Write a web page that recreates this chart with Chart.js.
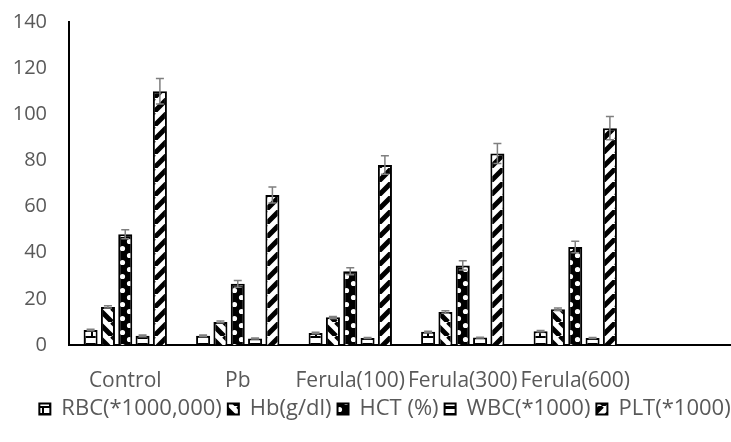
<!DOCTYPE html>
<html lang="en">

<head>
    <meta charset="UTF-8">
    <title>Blood parameters</title>
    <script src="https://cdn.jsdelivr.net/npm/chart.js"></script>
    <style>
        html, body { margin: 0; padding: 0; overflow: hidden; background: #fff; }
    </style>
</head>

<body>
    <canvas id="doThi" width="770" height="442"></canvas>
    <script>
        // groups (the last one is empty, the axis runs on past Ferula(600))
        const groups = ['Control', 'Pb', 'Ferula(100)', 'Ferula(300)', 'Ferula(600)', ''];
        const seriesNames = ['RBC(*1000,000)', 'Hb(g/dl)', 'HCT (%)', 'WBC(*1000)', 'PLT(*1000)'];

        const rbc = [6.5, 4, 5.2, 5.7, 6, null];
        const hb = [16.5, 10, 12, 14.3, 15.5, null];
        const hct = [48, 26.5, 32, 34.5, 42.5, null];
        const wbc = [4, 2.8, 3, 3.2, 3, null];
        const plt = [110, 65, 78, 83, 94, null];

        const errRbc = [0.3, 0.3, 0.3, 0.3, 0.3, 0];
        const errHb = [0.5, 0.4, 0.4, 0.5, 0.5, 0];
        const errHct = [2, 1.5, 1.5, 2, 2.5, 0];
        const errWbc = [0.3, 0.2, 0.2, 0.2, 0.2, 0];
        const errPlt = [5.5, 3.5, 4, 4.3, 5, 0];

        const yTicks = { min: 0, max: 140, step: 20 };

        function makePattern(kind) {
            const c = document.createElement('canvas');
            const t = 14;
            c.width = t;
            c.height = t;
            const g = c.getContext('2d');
            g.fillStyle = '#fff';
            g.fillRect(0, 0, t, t);
            g.fillStyle = '#000';
            g.strokeStyle = '#000';
            if (kind == 'up' || kind == 'down') {
                g.lineWidth = 5;
                g.beginPath();
                for (let x0 = -t; x0 <= t; x0 += t) {
                    if (kind == 'up') {
                        g.moveTo(x0, t);
                        g.lineTo(x0 + t, 0);
                    } else {
                        g.moveTo(x0, 0);
                        g.lineTo(x0 + t, t);
                    }
                }
                g.stroke();
            } else if (kind == 'brick') {
                g.fillRect(0, 0, t, 2);
                g.fillRect(0, 7, t, 2);
                g.fillRect(0, 0, 2, 7);
                g.fillRect(7, 7, 2, 7);
            } else if (kind == 'horiz') {
                g.fillRect(0, 0, t, 3);
                g.fillRect(0, 7, t, 3);
            } else if (kind == 'sphere') {
                g.fillRect(0, 0, t, t);
                g.fillStyle = '#fff';
                g.beginPath();
                g.arc(3.5, 3.5, 2.6, 0, Math.PI * 2);
                g.arc(10.5, 10.5, 2.6, 0, Math.PI * 2);
                g.fill();
            }
            return document.getElementById('doThi').getContext('2d').createPattern(c, 'repeat');
        }

        const errorBars = {
            id: 'errorBars',
            afterDatasetsDraw(chart) {
                const ctx = chart.ctx;
                const y = chart.scales.y;
                ctx.save();
                ctx.strokeStyle = '#7f7f7f';
                ctx.lineWidth = 1.5;
                chart.data.datasets.forEach((ds, di) => {
                    const meta = chart.getDatasetMeta(di);
                    ds.errors.forEach((e, i) => {
                        if (ds.data[i] == null || !e) return;
                        const x = meta.data[i].x;
                        const top = y.getPixelForValue(ds.data[i] + e);
                        const bot = y.getPixelForValue(ds.data[i] - e);
                        ctx.beginPath();
                        ctx.moveTo(x, top);
                        ctx.lineTo(x, bot);
                        ctx.moveTo(x - 4, top);
                        ctx.lineTo(x + 4, top);
                        ctx.moveTo(x - 4, bot);
                        ctx.lineTo(x + 4, bot);
                        ctx.stroke();
                    });
                });
                ctx.restore();
            }
        };

        // nudge the legend a little to the right, like the original
        const legendShift = {
            id: 'legendShift',
            afterLayout(chart) {
                chart.legend.left += 8;
                chart.legend.right += 8;
            }
        };

        const values = [rbc, hb, hct, wbc, plt];
        const errors = [errRbc, errHb, errHct, errWbc, errPlt];
        const kinds = ['brick', 'down', 'sphere', 'horiz', 'up'];

        Chart.defaults.font.family = "'Open Sans', sans-serif";
        Chart.defaults.font.size = 20;
        Chart.defaults.color = '#595959';

        let myChart = new Chart(
            document.getElementById('doThi'),
            {
                type: 'bar',
                data: {
                    labels: groups,
                    datasets: seriesNames.map((name, k) => ({
                        label: name,
                        data: values[k],
                        errors: errors[k],
                        backgroundColor: makePattern(kinds[k]),
                        borderColor: '#000',
                        borderWidth: 2,
                        categoryPercentage: 0.77,
                        barPercentage: 0.81
                    }))
                },
                options: {
                    responsive: false,
                    animation: false,
                    layout: { padding: { top: 0, right: 26, bottom: 12, left: 10 } },
                    plugins: {
                        legend: {
                            position: 'bottom',
                            labels: {
                                boxWidth: 11,
                                boxHeight: 11,
                                padding: 6,
                                font: { size: 22 }
                            }
                        },
                        tooltip: { enabled: false }
                    },
                    scales: {
                        x: {
                            grid: { display: false, drawTicks: false },
                            border: { color: '#000', width: 2 },
                            ticks: { autoSkip: false, maxRotation: 0, minRotation: 0, padding: 23, font: { size: 21 } },
                            afterFit: (s) => { s.height = 47; }
                        },
                        y: {
                            min: yTicks.min,
                            max: yTicks.max,
                            grid: { display: false, drawTicks: false },
                            border: { color: '#000', width: 2 },
                            ticks: { stepSize: yTicks.step, padding: 22 },
                            afterFit: (s) => {
                                s.width = 59;
                                s.paddingTop = 22;
                            }
                        }
                    }
                },
                plugins: [errorBars, legendShift]
            }
        );
    </script>
</body>

</html>
